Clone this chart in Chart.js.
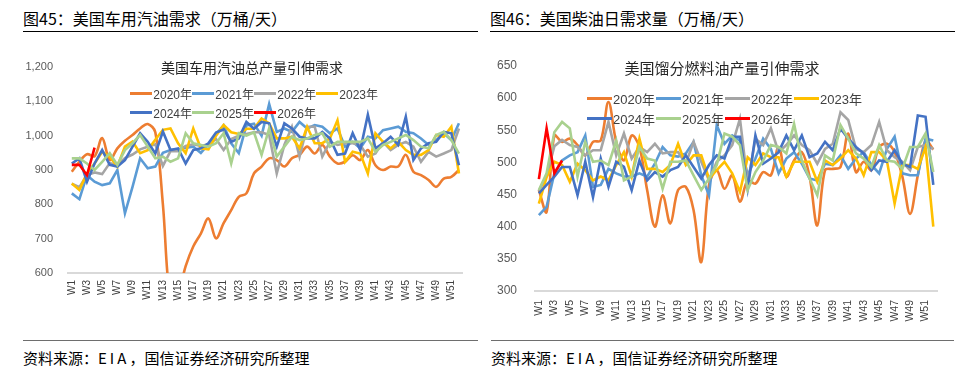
<!DOCTYPE html>
<html lang="zh-CN">
<head>
<meta charset="utf-8">
<title>美国车用汽油需求 / 美国柴油日需求量</title>
<script src="https://cdn.jsdelivr.net/npm/chart.js@4.4.1/dist/chart.umd.min.js"></script>
<style>
    html, body { margin: 0; padding: 0; background: #fff; }
    body {
        width: 967px; height: 372px; position: relative; overflow: hidden;
        font-family: "Noto Sans CJK SC", sans-serif; color: #000;
    }
    .fig-title { position: absolute; top: 7px; font-size: 16px; line-height: 22px; white-space: nowrap; }
    .rule-top { position: absolute; top: 31px; border-top: 1.5px solid #000; }
    .rule-bottom { position: absolute; top: 340px; border-top: 1.5px solid #6e6e6e; }
    .source { position: absolute; top: 348px; font-size: 15px; line-height: 20px; white-space: nowrap; }
    .source .latin { letter-spacing: 3px; }
    .chart-box { position: absolute; top: 40px; height: 296px; }
    .inner-title { position: absolute; transform: translateX(-50%); white-space: nowrap; color: #262626; line-height: 20px; }
    .legend { position: absolute; display: grid; font-family: "Liberation Sans", "Noto Sans CJK SC", sans-serif; color: #404040; }
    .legend .item { display: flex; align-items: center; white-space: nowrap; }
    .legend .swatch { display: inline-block; height: 3px; margin-right: 1px; }
</style>
</head>
<body>

<!-- left panel -->
<div class="fig-title" style="left:23px;">图45：美国车用汽油需求（万桶/天）</div>
<div class="rule-top" style="left:23px; width:455px;"></div>
<div class="chart-box" style="left:23px; width:455px;"><canvas id="gasChart"></canvas></div>
<div class="inner-title" style="left:252px; top:57px; font-size:14px;">美国车用汽油总产量引伸需求</div>
<div class="legend" id="gasLegend" style="left:130px; top:84px; grid-template-columns:repeat(4, 62px); grid-auto-rows:19px; font-size:12px;"></div>
<div class="rule-bottom" style="left:23px; width:455px;"></div>
<div class="source" style="left:23px;">资料来源：<span class="latin">EIA</span>，国信证券经济研究所整理</div>

<!-- right panel -->
<div class="fig-title" style="left:490px;">图46：美国柴油日需求量（万桶/天）</div>
<div class="rule-top" style="left:490px; width:465px;"></div>
<div class="chart-box" style="left:490px; width:465px;"><canvas id="dieselChart"></canvas></div>
<div class="inner-title" style="left:722px; top:58px; font-size:15px;">美国馏分燃料油产量引伸需求</div>
<div class="legend" id="dieselLegend" style="left:587px; top:88px; grid-template-columns:repeat(4, 69px); grid-auto-rows:20px; font-size:13px;"></div>
<div class="rule-bottom" style="left:491px; width:463px;"></div>
<div class="source" style="left:491px;">资料来源：<span class="latin">EIA</span>，国信证券经济研究所整理</div>

<script>
// categories
const weeks = [];
for (let i = 1; i <= 52; i++) weeks.push('W' + i);
const years = ['2020年', '2021年', '2022年', '2023年', '2024年', '2025年', '2026年'];

// y tick values
const gasTicks = [600, 700, 800, 900, 1000, 1100, 1200];
const dieselTicks = [300, 350, 400, 450, 500, 550, 600, 650];

// 车用汽油总产量引伸需求 (万桶/天)
const gas2020 = [895, 924, 946, 940, 993, 929, 963, 985, 1002, 1021, 1034, 1010, 800, 520, 540, 620, 677, 715, 759, 701, 745, 783, 822, 832, 890, 910, 934, 929, 910, 934, 944, 968, 948, 973, 939, 919, 924, 943, 929, 958, 914, 900, 910, 910, 944, 895, 885, 871, 851, 875, 880, 900];
const gas2021 = [832, 815, 885, 866, 856, 861, 900, 774, 851, 934, 905, 910, 950, 958, 960, 965, 968, 950, 975, 1005, 1030, 978, 949, 1030, 1035, 1000, 1092, 1011, 1021, 1011, 1040, 1021, 1031, 1026, 1007, 1021, 968, 982, 963, 997, 992, 1016, 1021, 1026, 1011, 1007, 992, 973, 987, 1007, 987, 1036];
const gas2022 = [860, 850, 885, 893, 888, 920, 915, 935, 945, 960, 968, 975, 912, 955, 955, 970, 975, 970, 975, 990, 958, 990, 1000, 1005, 1010, 1010, 1002, 890, 973, 1026, 939, 1026, 1026, 939, 982, 973, 978, 978, 973, 939, 948, 982, 958, 973, 982, 968, 924, 953, 939, 948, 958, 1021];
const gas2023 = [861, 842, 890, 919, 953, 939, 910, 968, 983, 949, 958, 988, 1017, 1021, 978, 949, 1021, 963, 960, 1000, 1031, 1010, 1005, 1020, 1020, 1050, 1036, 992, 992, 997, 963, 1026, 978, 978, 992, 1045, 924, 953, 948, 890, 1007, 982, 963, 982, 958, 944, 944, 958, 1002, 997, 1026, 890];
const gas2024 = [919, 934, 866, 919, 958, 915, 910, 929, 968, 1007, 982, 948, 1012, 958, 963, 919, 958, 963, 978, 1009, 1018, 982, 992, 1040, 1020, 1040, 1036, 968, 1036, 1021, 997, 992, 992, 1011, 992, 944, 948, 1007, 958, 1061, 963, 978, 997, 973, 1055, 929, 963, 978, 982, 1011, 1007, 914];
const gas2025 = [934, 934, 919, 900, 924, 949, 915, 958, 978, 1002, 968, 934, 939, 924, 934, 1007, 978, 973, 968, 978, 1007, 919, 1007, 1000, 1010, 944, 1021, 939, 968, 997, 987, 992, 1002, 1007, 968, 982, 982, 982, 982, 992, 953, 973, 982, 992, 1002, 987, 968, 963, 1002, 1011, 987, 948];
const gas2026 = [915, 915, 885, 965];

// 馏分燃料油产量引伸需求 (万桶/天)
const diesel2020 = [457, 423, 542, 532, 537, 527, 511, 532, 534, 594, 532, 503, 542, 524, 457, 400, 449, 405, 457, 462, 426, 345, 465, 488, 459, 480, 439, 472, 467, 485, 480, 524, 478, 503, 516, 478, 402, 488, 490, 493, 545, 485, 501, 488, 524, 529, 516, 478, 420, 480, 534, 520];
const diesel2021 = [418, 431, 483, 503, 511, 516, 542, 462, 465, 490, 483, 478, 478, 483, 478, 498, 524, 511, 509, 514, 532, 480, 449, 558, 529, 542, 534, 480, 506, 537, 521, 483, 506, 516, 498, 475, 472, 498, 496, 511, 490, 506, 516, 496, 483, 521, 540, 483, 480, 480, 537, 534];
const diesel2022 = [455, 480, 525, 535, 527, 524, 511, 519, 519, 563, 511, 545, 506, 524, 516, 529, 514, 516, 516, 498, 532, 501, 472, 501, 511, 527, 568, 467, 537, 527, 553, 516, 527, 542, 527, 519, 498, 521, 529, 578, 566, 521, 516, 527, 563, 519, 508, 501, 488, 524, 527, 521];
const diesel2023 = [436, 477, 501, 496, 470, 498, 488, 472, 478, 472, 496, 516, 478, 537, 490, 490, 485, 496, 529, 496, 511, 511, 475, 488, 501, 483, 454, 508, 496, 514, 508, 508, 478, 501, 501, 501, 470, 503, 496, 506, 519, 506, 480, 516, 516, 503, 436, 496, 496, 490, 524, 400];
const diesel2024 = [452, 465, 478, 493, 493, 449, 501, 446, 506, 462, 501, 493, 457, 503, 472, 485, 478, 488, 493, 511, 493, 475, 496, 511, 506, 540, 540, 459, 542, 498, 506, 516, 542, 519, 542, 508, 514, 532, 519, 553, 537, 524, 514, 488, 503, 501, 519, 498, 493, 573, 571, 465];
const diesel2025 = [457, 483, 547, 563, 553, 478, 532, 501, 503, 496, 534, 472, 478, 524, 506, 503, 459, 501, 501, 503, 480, 457, 475, 496, 545, 540, 527, 457, 485, 503, 527, 524, 514, 560, 503, 475, 449, 511, 503, 558, 537, 514, 506, 493, 527, 503, 501, 490, 524, 524, 545, 485];
const diesel2026 = [474, 553, 483, 503];

// styles
const seriesColors = ['#ED7D31', '#5B9BD5', '#A5A5A5', '#FFC000', '#4472C4', '#A9D18E', '#FF0000'];
const tickColor = '#595959';
const numFont = '"Liberation Sans", "Noto Sans CJK SC", sans-serif';

function makeDatasets(seriesList) {
    return seriesList.map((values, i) => ({
        label: years[i],
        data: values,
        borderColor: seriesColors[i],
        backgroundColor: seriesColors[i],
        borderWidth: 2.6,
        pointRadius: 0,
        fill: false,
        tension: i === 0 ? 0.35 : 0,
        order: seriesList.length - i   // later years drawn on top
    }));
}

function renderLegend(containerId, swatchWidth) {
    const box = document.getElementById(containerId);
    box.innerHTML = years.map((y, i) =>
        `<div class="item"><span class="swatch" style="width:${swatchWidth}px;background:${seriesColors[i]}"></span><span>${y}</span></div>`
    ).join('');
}

function buildChart(canvasId, seriesList, ticks, cfg) {
    return new Chart(document.getElementById(canvasId), {
        type: 'line',
        data: { labels: weeks, datasets: makeDatasets(seriesList) },
        options: {
            responsive: true,
            maintainAspectRatio: false,
            animation: false,
            layout: { padding: { top: cfg.padTop, right: cfg.padRight, left: 0, bottom: 0 } },
            plugins: {
                legend: { display: false },
                tooltip: { enabled: false }
            },
            scales: {
                x: {
                    offset: true,
                    grid: { display: false, drawTicks: false },
                    border: { display: true, color: '#d9d9d9', width: 2 },
                    ticks: {
                        autoSkip: false,
                        minRotation: 90,
                        maxRotation: 90,
                        padding: cfg.xPad,
                        color: '#404040',
                        font: { family: numFont, size: cfg.xFont },
                        callback: (v, i) => (i % 2 === 0 ? weeks[i] : '')
                    },
                    afterFit: (s) => { s.height = cfg.xHeight; }
                },
                y: {
                    min: ticks[0],
                    max: ticks[ticks.length - 1],
                    grid: { display: false, drawTicks: false },
                    border: { display: false },
                    ticks: {
                        stepSize: ticks[1] - ticks[0],
                        padding: cfg.yPad,
                        color: tickColor,
                        font: { family: numFont, size: cfg.yFont },
                        callback: (v) => v.toLocaleString('en-US')
                    },
                    afterFit: (s) => { s.width = 45; }
                }
            }
        }
    });
}

buildChart('gasChart',
    [gas2020, gas2021, gas2022, gas2023, gas2024, gas2025, gas2026],
    gasTicks,
    { padTop: 27, padRight: 6, xHeight: 63, xPad: 7, xFont: 10, yPad: 15, yFont: 11 });

buildChart('dieselChart',
    [diesel2020, diesel2021, diesel2022, diesel2023, diesel2024, diesel2025, diesel2026],
    dieselTicks,
    { padTop: 26, padRight: 11, xHeight: 45, xPad: 9, xFont: 10.5, yPad: 18, yFont: 12 });

renderLegend('gasLegend', 23);
renderLegend('dieselLegend', 25);
</script>
</body>
</html>
